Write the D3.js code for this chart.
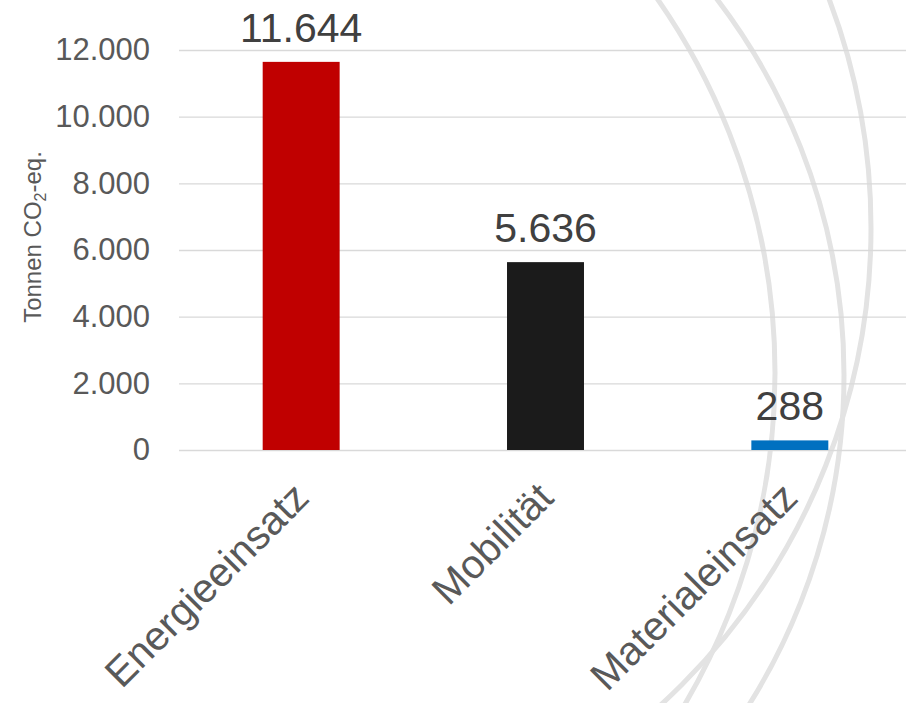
<!DOCTYPE html>
<html>
<head>
<meta charset="utf-8">
<script src="https://cdn.jsdelivr.net/npm/d3@7"></script>
<style>
    html, body { margin: 0; padding: 0; background: #fff; }
    svg { display: block; font-family: "Liberation Sans", Arial, sans-serif; }
</style>
</head>
<body>
<div id="chart"></div>
<script>
// Daten
const categories = ['Energieeinsatz', 'Mobilität', 'Materialeinsatz'];
const values = [11644, 5636, 288];
const barColors = ['#c00000', '#1b1b1b', '#0070c0'];
const yTicks = [0, 2000, 4000, 6000, 8000, 10000, 12000];

// Hintergrund-Bögen (Deko)
const decoArcs = [
    { cx: 122, cy: 373, r: 653 },
    { cx: 225, cy: 375, r: 619 },
    { cx: 225, cy: 228, r: 646 }
];

const width = 906;
const height = 703;

const de = d3.formatLocale({ decimal: ',', thousands: '.', grouping: [3], currency: ['', ' €'] });
const fmt = de.format(',d');

const svg = d3.select('#chart')
    .append('svg')
    .attr('width', width)
    .attr('height', height);

svg.append('g')
    .selectAll('circle')
    .data(decoArcs)
    .enter()
    .append('circle')
    .attr('cx', d => d.cx)
    .attr('cy', d => d.cy)
    .attr('r', d => d.r)
    .attr('fill', 'none')
    .attr('stroke', '#e3e3e3')
    .attr('stroke-width', 5);

const x = d3.scaleBand()
    .domain(categories)
    .range([179, 912])
    .paddingInner(0.685)
    .paddingOuter(0.3425);

const y = d3.scaleLinear()
    .domain([0, 12000])
    .range([450, 50]);

// Gitternetz + Achse
const yAxis = svg.append('g')
    .attr('transform', 'translate(179,0)')
    .call(d3.axisLeft(y)
        .tickValues(yTicks)
        .tickFormat(fmt)
        .tickSize(-(912 - 179))
        .tickPadding(29));

yAxis.select('.domain').remove();
yAxis.selectAll('.tick line')
    .attr('stroke', '#d9d9d9')
    .attr('stroke-width', 1.3);
yAxis.selectAll('.tick text')
    .attr('fill', '#595959')
    .attr('font-size', '31px')
    .attr('font-family', '"Liberation Sans", Arial, sans-serif');

// Balken
svg.append('g')
    .selectAll('rect')
    .data(values)
    .enter()
    .append('rect')
    .attr('x', (d, i) => x(categories[i]))
    .attr('y', d => y(d))
    .attr('width', x.bandwidth())
    .attr('height', d => y(0) - y(d))
    .attr('fill', (d, i) => barColors[i]);

// Werte
svg.append('g')
    .selectAll('text')
    .data(values)
    .enter()
    .append('text')
    .attr('x', (d, i) => x(categories[i]) + x.bandwidth() / 2)
    .attr('y', d => y(d) - 20)
    .attr('text-anchor', 'middle')
    .attr('font-size', '41px')
    .attr('fill', '#404040')
    .text(d => fmt(d));

// Kategorien, schräg
svg.append('g')
    .selectAll('text')
    .data(categories)
    .enter()
    .append('text')
    .attr('transform', d => `translate(${x(d) + x.bandwidth() / 2 + 10}, 500) rotate(-45)`)
    .attr('text-anchor', 'end')
    .attr('font-size', '40.5px')
    .attr('fill', '#595959')
    .text(d => d);

// Achsentitel
const title = svg.append('text')
    .attr('transform', 'translate(41, 237) rotate(-90)')
    .attr('text-anchor', 'middle')
    .attr('font-size', '24px')
    .attr('fill', '#595959');
title.append('tspan').text('Tonnen CO');
title.append('tspan').attr('font-size', '16px').attr('dy', '5').text('2');
title.append('tspan').attr('dy', '-5').text('-eq.');
</script>
</body>
</html>
